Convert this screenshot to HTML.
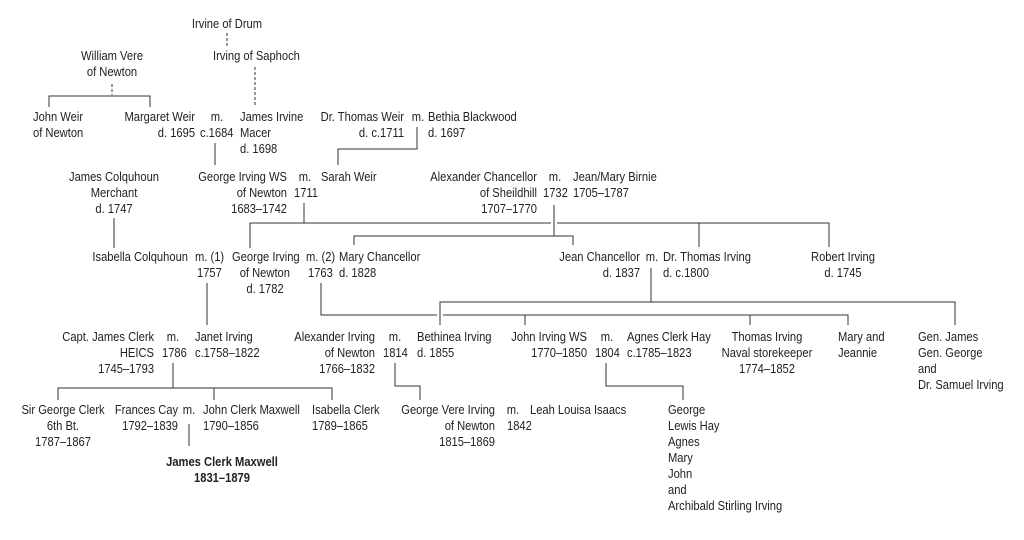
<!DOCTYPE html>
<html><head><meta charset="utf-8"><style>
html,body{margin:0;padding:0;background:#fff;}
svg{display:block;}
text{font-family:"Liberation Sans",sans-serif;font-size:13px;fill:#222;transform-box:fill-box;transform-origin:0% 50%;transform:scaleX(0.86);}
.r{text-anchor:end;transform-origin:100% 50%;}.c{text-anchor:middle;transform-origin:50% 50%;}
.b{font-weight:bold;}
line,polyline{stroke:#333;stroke-width:1;fill:none;}
.d{stroke-dasharray:3,2;}
</style></head><body>
<svg width="1024" height="540" viewBox="0 0 1024 540">
<line class="d" x1="227" y1="33" x2="227" y2="46"/>
<line class="d" x1="255" y1="67" x2="255" y2="106"/>
<line class="d" x1="112" y1="84" x2="112" y2="95"/>
<polyline points="49,107 49,96 150,96 150,107"/>
<line x1="215" y1="143" x2="215" y2="165"/>
<polyline points="417,127 417,149 338,149 338,165"/>
<line x1="114" y1="218" x2="114" y2="248"/>
<line x1="304" y1="203" x2="304" y2="223"/>
<polyline points="250,248 250,223 551,223"/>
<polyline points="557,223 829,223 829,247"/>
<line x1="699" y1="223" x2="699" y2="247"/>
<line x1="554" y1="205" x2="554" y2="236"/>
<polyline points="354,245 354,236 573,236 573,245"/>
<line x1="207" y1="283" x2="207" y2="325"/>
<polyline points="321,283 321,315 437,315"/>
<polyline points="443,315 848,315 848,325"/>
<line x1="525" y1="315" x2="525" y2="325"/>
<line x1="750" y1="315" x2="750" y2="325"/>
<line x1="651" y1="268" x2="651" y2="302"/>
<polyline points="440,325 440,302 955,302 955,325"/>
<polyline points="606,363 606,386 683,386 683,400"/>
<line x1="173" y1="363" x2="173" y2="388"/>
<polyline points="58,400 58,388 332,388 332,400"/>
<line x1="214" y1="388" x2="214" y2="400"/>
<polyline points="395,363 395,386 420,386 420,400"/>
<line x1="189" y1="424" x2="189" y2="446"/>

<text x="227" y="28" class="c">Irvine of Drum</text>
<text x="213" y="60">Irving of Saphoch</text>
<text x="112" y="60" class="c">William Vere</text>
<text x="112" y="76" class="c">of Newton</text>

<text x="33" y="121">John Weir</text>
<text x="33" y="137">of Newton</text>
<text x="195" y="121" class="r">Margaret Weir</text>
<text x="195" y="137" class="r">d. 1695</text>
<text x="217" y="121" class="c">m.</text>
<text x="200" y="137">c.1684</text>
<text x="240" y="121">James Irvine</text>
<text x="240" y="137">Macer</text>
<text x="240" y="153">d. 1698</text>
<text x="404" y="121" class="r">Dr. Thomas Weir</text>
<text x="404" y="137" class="r">d. c.1711</text>
<text x="418" y="121" class="c">m.</text>
<text x="428" y="121">Bethia Blackwood</text>
<text x="428" y="137">d. 1697</text>

<text x="114" y="181" class="c">James Colquhoun</text>
<text x="114" y="197" class="c">Merchant</text>
<text x="114" y="213" class="c">d. 1747</text>
<text x="287" y="181" class="r">George Irving WS</text>
<text x="287" y="197" class="r">of Newton</text>
<text x="287" y="213" class="r">1683–1742</text>
<text x="305" y="181" class="c">m.</text>
<text x="294" y="197">1711</text>
<text x="321" y="181">Sarah Weir</text>
<text x="537" y="181" class="r">Alexander Chancellor</text>
<text x="537" y="197" class="r">of Sheildhill</text>
<text x="537" y="213" class="r">1707–1770</text>
<text x="555" y="181" class="c">m.</text>
<text x="543" y="197">1732</text>
<text x="573" y="181">Jean/Mary Birnie</text>
<text x="573" y="197">1705–1787</text>

<text x="188" y="261" class="r">Isabella Colquhoun</text>
<text x="195" y="261">m. (1)</text>
<text x="197" y="277">1757</text>
<text x="232" y="261">George Irving</text>
<text x="290" y="277" class="r">of Newton</text>
<text x="265" y="293" class="c">d. 1782</text>
<text x="306" y="261">m. (2)</text>
<text x="308" y="277">1763</text>
<text x="339" y="261">Mary Chancellor</text>
<text x="339" y="277">d. 1828</text>
<text x="640" y="261" class="r">Jean Chancellor</text>
<text x="640" y="277" class="r">d. 1837</text>
<text x="652" y="261" class="c">m.</text>
<text x="663" y="261">Dr. Thomas Irving</text>
<text x="663" y="277">d. c.1800</text>
<text x="843" y="261" class="c">Robert Irving</text>
<text x="843" y="277" class="c">d. 1745</text>

<text x="154" y="341" class="r">Capt. James Clerk</text>
<text x="154" y="357" class="r">HEICS</text>
<text x="154" y="373" class="r">1745–1793</text>
<text x="173" y="341" class="c">m.</text>
<text x="162" y="357">1786</text>
<text x="195" y="341">Janet Irving</text>
<text x="195" y="357">c.1758–1822</text>
<text x="375" y="341" class="r">Alexander Irving</text>
<text x="375" y="357" class="r">of Newton</text>
<text x="375" y="373" class="r">1766–1832</text>
<text x="395" y="341" class="c">m.</text>
<text x="383" y="357">1814</text>
<text x="417" y="341">Bethinea Irving</text>
<text x="417" y="357">d. 1855</text>
<text x="587" y="341" class="r">John Irving WS</text>
<text x="587" y="357" class="r">1770–1850</text>
<text x="607" y="341" class="c">m.</text>
<text x="595" y="357">1804</text>
<text x="627" y="341">Agnes Clerk Hay</text>
<text x="627" y="357">c.1785–1823</text>
<text x="767" y="341" class="c">Thomas Irving</text>
<text x="767" y="357" class="c">Naval storekeeper</text>
<text x="767" y="373" class="c">1774–1852</text>
<text x="838" y="341">Mary and</text>
<text x="838" y="357">Jeannie</text>
<text x="918" y="341">Gen. James</text>
<text x="918" y="357">Gen. George</text>
<text x="918" y="373">and</text>
<text x="918" y="389">Dr. Samuel Irving</text>

<text x="63" y="414" class="c">Sir George Clerk</text>
<text x="63" y="430" class="c">6th Bt.</text>
<text x="63" y="446" class="c">1787–1867</text>
<text x="178" y="414" class="r">Frances Cay</text>
<text x="178" y="430" class="r">1792–1839</text>
<text x="189" y="414" class="c">m.</text>
<text x="203" y="414">John Clerk Maxwell</text>
<text x="203" y="430">1790–1856</text>
<text x="312" y="414">Isabella Clerk</text>
<text x="312" y="430">1789–1865</text>
<text x="495" y="414" class="r">George Vere Irving</text>
<text x="495" y="430" class="r">of Newton</text>
<text x="495" y="446" class="r">1815–1869</text>
<text x="513" y="414" class="c">m.</text>
<text x="507" y="430">1842</text>
<text x="530" y="414">Leah Louisa Isaacs</text>
<text x="668" y="414">George</text>
<text x="668" y="430">Lewis Hay</text>
<text x="668" y="446">Agnes</text>
<text x="668" y="462">Mary</text>
<text x="668" y="478">John</text>
<text x="668" y="494">and</text>
<text x="668" y="510">Archibald Stirling Irving</text>

<text x="222" y="466" class="c b">James Clerk Maxwell</text>
<text x="222" y="482" class="c b">1831–1879</text>
</svg>
</body></html>
